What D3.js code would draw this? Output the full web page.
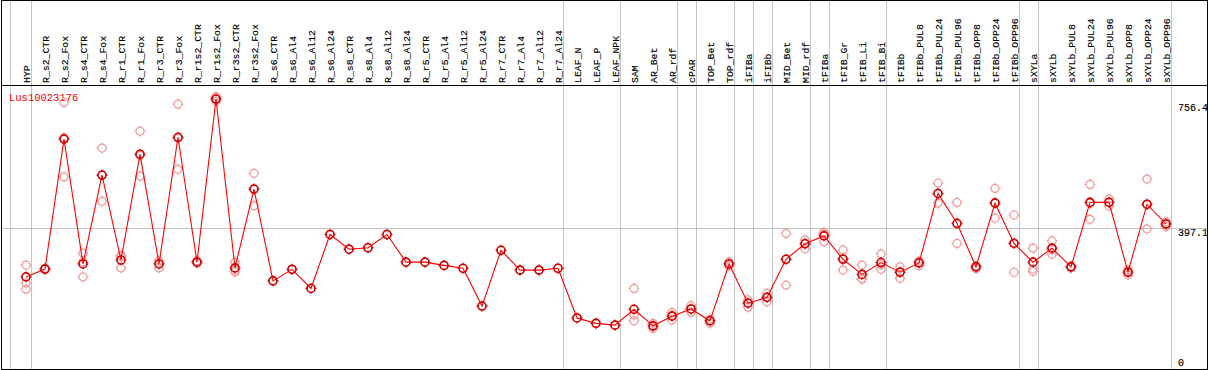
<!DOCTYPE html>
<html>
<head>
<meta charset="utf-8">
<script src="https://cdn.jsdelivr.net/npm/d3@7"></script>
<style>
  body { margin: 0; background: #fff; }
  text { font-family: "Liberation Mono", "DejaVu Sans Mono", monospace; }
</style>
</head>
<body>
<div id="chart"></div>
<script>
// sample names (columns), left to right
const samples = ["HYP",
  "R_s2_CTR", "R_s2_Fox", "R_s4_CTR", "R_s4_Fox", "R_r1_CTR", "R_r1_Fox", "R_r3_CTR", "R_r3_Fox",
  "R_r1s2_CTR", "R_r1s2_Fox", "R_r3s2_CTR", "R_r3s2_Fox",
  "R_s6_CTR", "R_s6_Al4", "R_s6_Al12", "R_s6_Al24", "R_s8_CTR", "R_s8_Al4", "R_s8_Al12", "R_s8_Al24",
  "R_r5_CTR", "R_r5_Al4", "R_r5_Al12", "R_r5_Al24", "R_r7_CTR", "R_r7_Al4", "R_r7_Al12", "R_r7_Al24",
  "LEAF_N", "LEAF_P", "LEAF_NPK", "SAM", "AR_Bet", "AR_rdf", "cPAR", "TOP_Bet", "TOP_rdf",
  "iFIBa", "iFIBb", "MID_Bet", "MID_rdf", "tFIBa", "tFIB_Gr", "tFIB_Li", "tFIB_Bi",
  "tFIBb", "tFIBb_PUL8", "tFIBb_PUL24", "tFIBb_PUL96", "tFIBb_OPP8", "tFIBb_OPP24", "tFIBb_OPP96",
  "sXYLa", "sXYLb", "sXYLb_PUL8", "sXYLb_PUL24", "sXYLb_PUL96", "sXYLb_OPP8", "sXYLb_OPP24", "sXYLb_OPP96"];

// number of samples in each tissue group (gray separators between them)
const groupSizes = [1, 28, 3, 3, 1, 2, 1, 1, 2, 1, 3, 7, 1, 7];

// mean expression per sample
const means = [262, 284, 645, 298, 545, 309, 603, 298, 650, 303, 756.4, 287, 506,
  251, 283, 230, 380, 339, 343, 380, 303, 303, 294, 286, 181, 336, 281, 281, 286,
  148, 133, 128, 172, 126, 153, 173, 140, 298, 189, 205, 311, 354, 376, 311, 269, 302,
  275, 301, 494, 411, 290, 467, 355, 303, 342, 290, 469, 469, 275, 464, 409];

// individual replicates per sample
const replicates = [
  [295, 245, 228], [282, 284, 286], [747, 540, 649], [328, 262, 304], [620, 472, 544],
  [287, 318, 322], [667, 542, 599], [287, 300, 307], [742, 561, 647], [300, 303, 307],
  [750, 756, 763], [281, 276, 303], [550, 460, 507],
  [251], [283], [230], [380], [339], [343], [380], [303], [303], [294], [286], [181],
  [336], [281], [281], [286], [148], [133], [128],
  [230, 156, 140], [133, 119, 125], [163, 142, 155], [182, 164, 173], [145, 133, 140],
  [304, 292, 298], [198, 178, 190], [216, 193, 207], [383, 239, 311], [365, 340, 356],
  [386, 360, 381], [337, 281, 315], [295, 256, 257], [326, 283, 296],
  [290, 258, 276], [293, 303, 306], [523, 467, 493], [469, 355, 409], [285, 292, 292],
  [508, 425, 469], [434, 275, 357], [342, 284, 277], [362, 325, 338], [287, 290, 292],
  [519, 422, 467], [479, 459, 470], [281, 267, 276], [534, 395, 462], [415, 402, 410]];

const geneName = "Lus10023176";
const axisTicks = [0, 397.1, 756.4];
const refLine = 397.1;

const W = 1209, H = 370;
const frame = {left: 1.5, right: 1207.5, top: 0.5, bottom: 369.5, header: 85.5};

const svg = d3.select("#chart").append("svg")
    .attr("width", W)
    .attr("height", H)
    .style("display", "block");

// scales
const x = d3.scalePoint().domain(samples).range([26, 1166]);
const y = d3.scaleLinear().domain([0, 756.4]).range([371.2, 99]);
const step = x.step();

// gray group separators (full height)
let idx = -1;
const sepX = [x(samples[0]) - step * 0.82];
groupSizes.forEach(n => { idx += n; sepX.push(x(samples[idx]) + step * 0.24); });

svg.append("g").selectAll("line")
    .data(sepX)
    .enter().append("line")
    .attr("x1", d => Math.round(d) + 0.5)
    .attr("x2", d => Math.round(d) + 0.5)
    .attr("y1", frame.top)
    .attr("y2", frame.bottom)
    .attr("stroke", "#c4c4c4")
    .attr("stroke-width", 1);

// horizontal reference line
svg.append("line")
    .attr("x1", frame.left).attr("x2", frame.right)
    .attr("y1", Math.round(y(refLine)) + 0.5).attr("y2", Math.round(y(refLine)) + 0.5)
    .attr("stroke", "#c4c4c4");

// frame + header divider
svg.append("rect")
    .attr("x", frame.left).attr("y", frame.top)
    .attr("width", frame.right - frame.left)
    .attr("height", frame.bottom - frame.top)
    .attr("fill", "none")
    .attr("stroke", "#000");
svg.append("line")
    .attr("x1", frame.left).attr("x2", frame.right)
    .attr("y1", frame.header).attr("y2", frame.header)
    .attr("stroke", "#000");

// column labels, rotated
svg.append("g").selectAll("text")
    .data(samples)
    .enter().append("text")
    .attr("transform", d => `translate(${x(d) + 3.5},83) rotate(-90)`)
    .attr("font-size", "9.8px")
    .attr("fill", "#000")
    .attr("stroke", "#000")
    .attr("stroke-width", 0.15)
    .text(d => d);

// right-hand value labels
svg.append("g").selectAll("text")
    .data(axisTicks)
    .enter().append("text")
    .attr("x", 1178)
    .attr("y", d => Math.max(111, Math.min(366, y(d) + 8)))
    .attr("font-size", "10px")
    .attr("fill", "#000")
    .attr("stroke", "#000")
    .attr("stroke-width", 0.15)
    .text(d => d);

// gene name
svg.append("text")
    .attr("x", 9)
    .attr("y", 101)
    .attr("font-size", "10.5px")
    .attr("fill", "#f00000")
    .text(geneName);

// circle with little crosshair ticks
function marker(g, color, width) {
    g.append("circle").attr("r", 4).attr("fill", "none")
        .attr("stroke", color).attr("stroke-width", width);
    const t = [[0, -4, 0, -5.5], [0, 4, 0, 5.5], [-4, 0, -5.5, 0], [4, 0, 5.5, 0]];
    t.forEach(s => {
        g.append("line")
            .attr("x1", s[0]).attr("y1", s[1]).attr("x2", s[2]).attr("y2", s[3])
            .attr("stroke", color).attr("stroke-width", 1);
    });
}

// replicates
const repData = [];
replicates.forEach((r, i) => r.forEach(v => repData.push({s: samples[i], v: v})));
svg.append("g").selectAll("g")
    .data(repData)
    .enter().append("g")
    .attr("transform", d => `translate(${x(d.s)},${y(d.v)})`)
    .each(function() { marker(d3.select(this), "#f09a9a", 1.2); });

// mean line
const line = d3.line()
    .x((d, i) => x(samples[i]))
    .y(d => y(d));
svg.append("path")
    .datum(means)
    .attr("d", line)
    .attr("fill", "none")
    .attr("stroke", "#ff0000")
    .attr("stroke-width", 1.1);

// mean markers
svg.append("g").selectAll("g")
    .data(means)
    .enter().append("g")
    .attr("transform", (d, i) => `translate(${x(samples[i])},${y(d)})`)
    .each(function() { marker(d3.select(this), "#d00000", 1.6); });
</script>
</body>
</html>
